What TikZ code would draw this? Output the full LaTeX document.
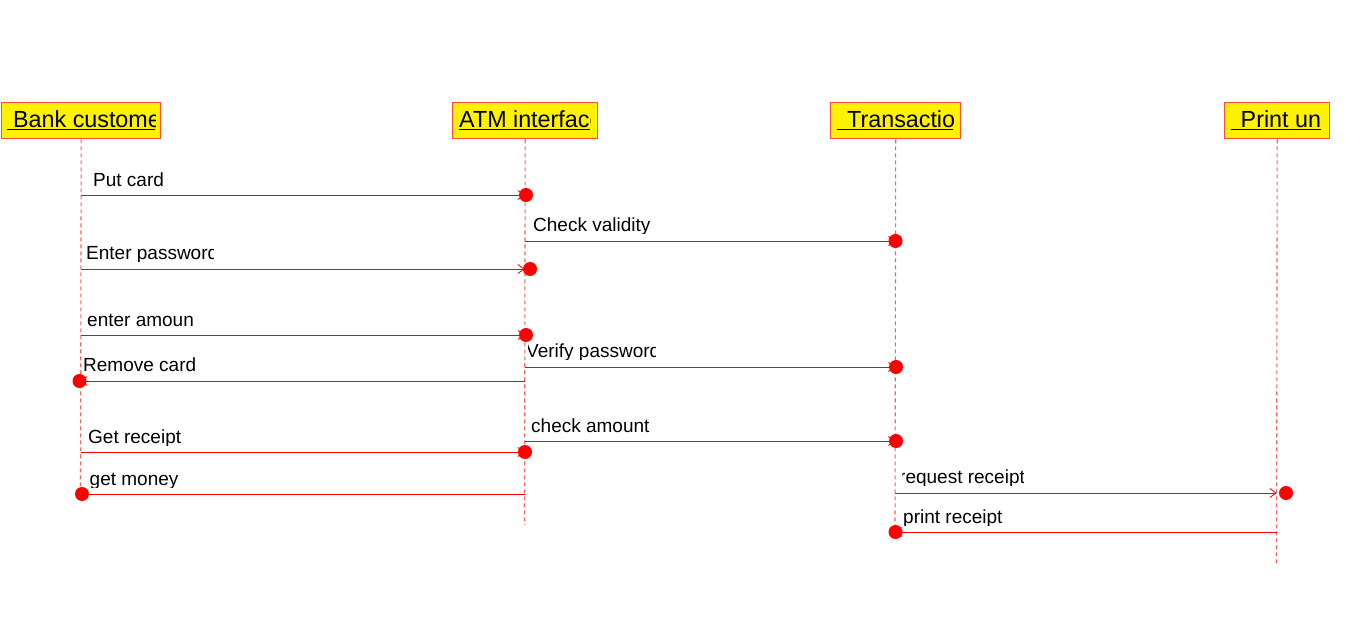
\documentclass[tikz,border=0pt]{standalone}
\usepackage{fontspec}
\setmainfont{Liberation Sans}
\usetikzlibrary{arrows.meta}
\definecolor{lifered}{RGB}{255,95,95}
\definecolor{boxred}{RGB}{255,75,60}
\definecolor{msgred}{RGB}{255,0,0}
\newcommand\cliplbl[6]{%
  \begin{scope}\clip (#4,#3-30) rectangle (#5,#3+2);
  \node[lbl] (#1) at (#2,#3) {#6};\end{scope}}
\newcommand\hdrtext[5]{%
  \begin{scope}\clip (#4,104) rectangle (#5,136);
  \node[hdr] (#1) at (#2,127.5) {#3};\end{scope}}
\begin{document}
\begin{tikzpicture}[x=1pt,y=-1pt,
  actor/.style={draw=boxred,line width=1.4pt,fill=yellow,minimum height=36pt,inner sep=0pt,anchor=north west},
  life/.style={draw=lifered,line width=1.1pt,dash pattern=on 4pt off 3pt},
  msg/.style={draw=msgred,line width=0.9pt,-{Straight Barb[length=6pt,width=9pt,line width=0.8pt]}},
  dot/.style={circle,fill=msgred,minimum size=14pt,inner sep=0pt},
  lbl/.style={font=\fontsize{19}{22}\selectfont,anchor=base west,inner sep=0pt,text=black},
  hdr/.style={font=\fontsize{23.3}{27}\selectfont,anchor=base west,inner sep=0pt,text=black}]
\useasboundingbox (0,0) rectangle (1345,644);
\fill[white] (0,0) rectangle (1345,644);
% actors
\node[actor,minimum width=159pt] (bank) at (1,102) {};
\node[actor,minimum width=145pt] (atm) at (452,102) {};
\node[actor,minimum width=130pt] (trans) at (830,102) {};
\node[actor,minimum width=105pt] (print) at (1224,102) {};
\hdrtext{bankt}{7}{\underline{\hspace{6pt}Bank customer}}{3}{155}
\hdrtext{atmt}{459}{\underline{ATM interface}}{454}{590}
\hdrtext{transt}{837}{\underline{\hspace{10pt}Transaction}}{832}{953}
\hdrtext{printt}{1231}{\underline{\hspace{9.5pt}Print unit}}{1226}{1321}
% lifelines
\coordinate (bankEnd) at (80.5,490);
\coordinate (atmEnd) at (524.5,525);
\coordinate (transEnd) at (895,532);
\coordinate (printEnd) at (1276.5,565);
\draw[life] (bank.south) -- (bankEnd);
\draw[life] (atm.south) -- (atmEnd);
\draw[life] (trans.south) -- (transEnd);
\draw[life] (print.south) -- (printEnd);
% message end points
\coordinate (b1) at (80.5,195);   \coordinate (a1) at (524.5,195);
\coordinate (a2) at (524.5,241);  \coordinate (t2) at (895,241);
\coordinate (b3) at (80.5,269);   \coordinate (a3) at (524.5,269);
\coordinate (b4) at (80.5,335);   \coordinate (a4) at (524.5,335);
\coordinate (a5) at (524.5,367);  \coordinate (t5) at (895,367);
\coordinate (a6) at (524.5,381);  \coordinate (b6) at (80.5,381);
\coordinate (a7) at (524.5,441);  \coordinate (t7) at (895,441);
\coordinate (b8) at (80.5,452);   \coordinate (a8) at (524.5,452);
\coordinate (a9) at (524.5,494);  \coordinate (b9) at (80.5,494);
\coordinate (t10) at (895,493);   \coordinate (p10) at (1276.5,493);
\coordinate (p11) at (1276.5,532);\coordinate (t11) at (895,532);
% messages
\draw[msg] (b1) -- (a1);
\draw[msg] (a2) -- (t2);
\draw[msg] (b3) -- (a3);
\draw[msg] (b4) -- (a4);
\draw[msg] (a5) -- (t5);
\draw[msg] (a6) -- (b6);
\draw[msg] (a7) -- (t7);
\draw[msg] (b8) -- (a8);
\draw[msg] (a9) -- (b9);
\draw[msg] (t10) -- (p10);
\draw[msg] (p11) -- (t11);
% activation dots
\node[dot] (d1) at (526,195) {};
\node[dot] (d2) at (895.5,241) {};
\node[dot] (d3) at (530,269) {};
\node[dot] (d4) at (526,335) {};
\node[dot] (d5) at (896,367) {};
\node[dot] (d6) at (79.5,381) {};
\node[dot] (d7) at (896,441) {};
\node[dot] (d8) at (525,452) {};
\node[dot] (d9) at (82,494) {};
\node[dot] (d10) at (1286,493) {};
\node[dot] (d11) at (895.5,532) {};
% labels
\cliplbl{l1}{93}{187}{82}{500}{Put card}
\cliplbl{l2}{533}{232}{525}{880}{Check validity}
\cliplbl{l3}{86}{260}{82}{213}{Enter password}
\cliplbl{l4}{87}{327}{82}{193}{enter amount}
\cliplbl{l5}{526}{358}{528}{655}{Verify password}
\cliplbl{l6}{83}{372}{82}{500}{Remove card}
\cliplbl{l7}{531}{432}{525}{880}{check amount}
\cliplbl{l8}{88}{443}{82}{500}{Get receipt}
\cliplbl{l9}{89.5}{485}{82}{500}{get money}
\cliplbl{l10}{899}{483}{902}{1023}{request receipt}
\cliplbl{l11}{903}{523}{896}{1200}{print receipt}
\end{tikzpicture}
\end{document}
